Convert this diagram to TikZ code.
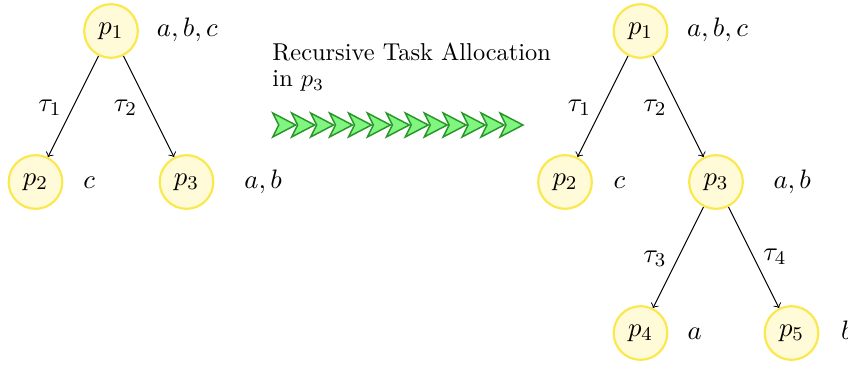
\documentclass[tikz,border=0pt]{standalone}
\definecolor{ringc}{RGB}{250,232,80}
\definecolor{fillc}{RGB}{255,250,215}
\definecolor{dartfill}{RGB}{128,245,128}
\definecolor{dartline}{RGB}{40,150,40}
\begin{document}
\begin{tikzpicture}[x=0.41pt,y=-0.41pt,
  font=\fontsize{10.95}{13.6}\selectfont,
  proc/.style={circle, draw=ringc, fill=fillc, line width=0.9pt, minimum size=22pt, inner sep=0pt},
  setl/.style={anchor=base west, inner sep=0pt},
  conn/.style={->, line width=0.4pt},
  tlab/.style={midway, inner sep=0pt, yshift=-0.6pt},
  dartst/.style={fill=dartfill, draw=dartline, line width=0.6pt},
  capt/.style={anchor=base west, inner sep=0pt, font=\fontsize{10}{10.7}\selectfont}]
\useasboundingbox (0,0) rectangle (848,365);
\clip (0,0) rectangle (848,365);

% left tree
\node[proc] (a1) at (111,31) {$p_1$};
\node[proc] (a2) at (35.5,182) {$p_2$};
\node[proc] (a3) at (186.5,182) {$p_3$};
\node[setl] (la1) at (156.5,37) {$a, b, c$};
\node[setl] (la2) at (83,188) {$c$};
\node[setl] (la3) at (244,188) {$a, b$};
\draw[conn] (a1) -- (a2) node[tlab, left=4.6pt] (ta1) {$\tau_1$};
\draw[conn] (a1) -- (a3) node[tlab, left=4.6pt] (ta2) {$\tau_2$};

% caption and arrow chain
\node[capt] (cap1) at (272,61) {Recursive Task Allocation};
\node[capt] (cap2) at (272,87) {in $p_3$};
\foreach \i in {0,...,12} {
  \pgfmathsetmacro\xa{272.7+18.94*\i}
  \draw[dartst] (\xa,113) -- (\xa+23,125) -- (\xa,137) -- (\xa+6,125) -- cycle;
}

% right tree
\node[proc] (b1) at (640.5,31) {$p_1$};
\node[proc] (b2) at (565,182) {$p_2$};
\node[proc] (b3) at (716,182) {$p_3$};
\node[proc] (b4) at (640.5,333) {$p_4$};
\node[proc] (b5) at (791.5,333) {$p_5$};
\node[setl] (lb1) at (686.5,37) {$a, b, c$};
\node[setl] (lb2) at (613,188) {$c$};
\node[setl] (lb3) at (773,188) {$a, b$};
\node[setl] (lb4) at (687,339) {$a$};
\node[setl] (lb5) at (840.5,339) {$b$};
\draw[conn] (b1) -- (b2) node[tlab, left=4.6pt] (tb1) {$\tau_1$};
\draw[conn] (b1) -- (b3) node[tlab, left=4.6pt] (tb2) {$\tau_2$};
\draw[conn] (b3) -- (b4) node[tlab, left=4.6pt] (tb3) {$\tau_3$};
\draw[conn] (b3) -- (b5) node[tlab, right=3.7pt, yshift=1pt] (tb4) {$\tau_4$};
\end{tikzpicture}
\end{document}
